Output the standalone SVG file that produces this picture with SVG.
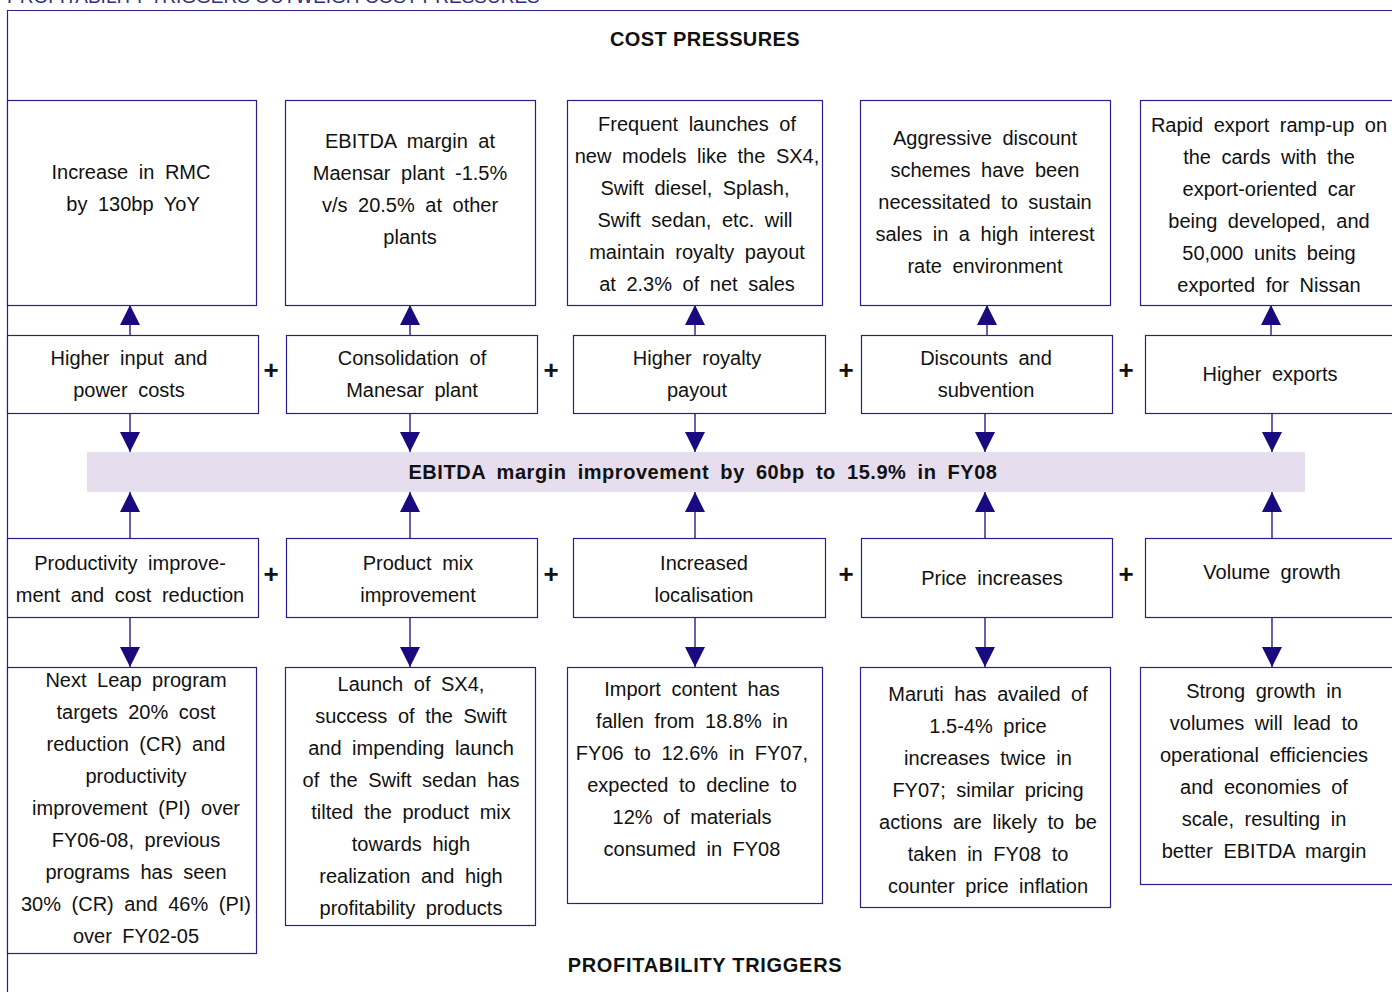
<svg xmlns="http://www.w3.org/2000/svg" width="1392" height="992" viewBox="0 0 1392 992">
<style>
.bg{fill:#ffffff}
.box{fill:#ffffff;stroke:#2a1e8c;stroke-width:1.2}
.frame{fill:none;stroke:#2a1e8c;stroke-width:1.2}
.band{fill:#e6ddee}
.t{font-family:"Liberation Sans",Arial,sans-serif;font-size:20px;fill:#111;text-anchor:middle;word-spacing:5px}
.b{font-family:"Liberation Sans",Arial,sans-serif;font-size:20px;font-weight:bold;fill:#111;text-anchor:middle}
.plus{font-family:"Liberation Sans",Arial,sans-serif;font-size:26px;font-weight:bold;fill:#111;text-anchor:middle}
.cap{font-family:"Liberation Sans",Arial,sans-serif;font-size:19px;fill:#2f2f80}
.con{stroke:#1a0a80;stroke-width:1.3;fill:none}
</style>
<defs>
<marker id="ah" viewBox="0 0 20 20" refX="20" refY="10" markerWidth="20" markerHeight="20" markerUnits="userSpaceOnUse" orient="auto">
<path d="M0,0 L20,10 L0,20 z" fill="#1a0a80"/>
</marker>
</defs>
<rect class="bg" x="0" y="0" width="1392" height="992"/>
<text class="cap" x="7" y="3">PROFITABILITY TRIGGERS OUTWEIGH COST PRESSURES</text>
<path class="frame" d="M7.5,992 V10.5 H1400"/>
<text class="b" x="705" y="46" style="letter-spacing:0.4px">COST PRESSURES</text>
<text class="b" x="705" y="972" style="letter-spacing:0.7px">PROFITABILITY TRIGGERS</text>

<g id="band">
<rect class="band" x="87" y="452" width="1218" height="40"/>
<text class="b" x="703" y="479" style="word-spacing:5px;letter-spacing:0.55px">EBITDA margin improvement by 60bp to 15.9% in FY08</text>
</g>

<g id="connectors">
<line class="con" x1="130" y1="335" x2="130" y2="305" marker-end="url(#ah)"/>
<line class="con" x1="410" y1="335" x2="410" y2="305" marker-end="url(#ah)"/>
<line class="con" x1="695" y1="335" x2="695" y2="305" marker-end="url(#ah)"/>
<line class="con" x1="987" y1="335" x2="987" y2="305" marker-end="url(#ah)"/>
<line class="con" x1="1271" y1="335" x2="1271" y2="305" marker-end="url(#ah)"/>
<line class="con" x1="130" y1="413" x2="130" y2="452" marker-end="url(#ah)"/>
<line class="con" x1="410" y1="413" x2="410" y2="452" marker-end="url(#ah)"/>
<line class="con" x1="695" y1="413" x2="695" y2="452" marker-end="url(#ah)"/>
<line class="con" x1="985" y1="413" x2="985" y2="452" marker-end="url(#ah)"/>
<line class="con" x1="1272" y1="413" x2="1272" y2="452" marker-end="url(#ah)"/>
<line class="con" x1="130" y1="538" x2="130" y2="492" marker-end="url(#ah)"/>
<line class="con" x1="410" y1="538" x2="410" y2="492" marker-end="url(#ah)"/>
<line class="con" x1="695" y1="538" x2="695" y2="492" marker-end="url(#ah)"/>
<line class="con" x1="985" y1="538" x2="985" y2="492" marker-end="url(#ah)"/>
<line class="con" x1="1272" y1="538" x2="1272" y2="492" marker-end="url(#ah)"/>
<line class="con" x1="130" y1="617" x2="130" y2="667" marker-end="url(#ah)"/>
<line class="con" x1="410" y1="617" x2="410" y2="667" marker-end="url(#ah)"/>
<line class="con" x1="695" y1="617" x2="695" y2="667" marker-end="url(#ah)"/>
<line class="con" x1="985" y1="617" x2="985" y2="667" marker-end="url(#ah)"/>
<line class="con" x1="1272" y1="617" x2="1272" y2="667" marker-end="url(#ah)"/>
</g>

<g id="plus-signs">
<text class="plus" x="271" y="379">+</text>
<text class="plus" x="551" y="379">+</text>
<text class="plus" x="846" y="379">+</text>
<text class="plus" x="1126" y="379">+</text>
<text class="plus" x="271" y="583">+</text>
<text class="plus" x="551" y="583">+</text>
<text class="plus" x="846" y="583">+</text>
<text class="plus" x="1126" y="583">+</text>
</g>

<g id="cp-detail-1">
<rect class="box" x="7.5" y="100.5" width="249" height="205"/>
<text class="t" x="131" y="179">Increase in RMC</text>
<text class="t" x="133" y="211">by 130bp YoY</text>
</g>
<g id="cp-detail-2">
<rect class="box" x="285.5" y="100.5" width="250" height="205"/>
<text class="t" x="410" y="148">EBITDA margin at</text>
<text class="t" x="410" y="180">Maensar plant -1.5%</text>
<text class="t" x="410" y="212">v/s 20.5% at other</text>
<text class="t" x="410" y="244">plants</text>
</g>
<g id="cp-detail-3">
<rect class="box" x="567.5" y="100.5" width="255" height="205"/>
<text class="t" x="697" y="131">Frequent launches of</text>
<text class="t" x="697" y="163">new models like the SX4,</text>
<text class="t" x="695" y="195">Swift diesel, Splash,</text>
<text class="t" x="695" y="227">Swift sedan, etc. will</text>
<text class="t" x="697" y="259">maintain royalty payout</text>
<text class="t" x="697" y="291">at 2.3% of net sales</text>
</g>
<g id="cp-detail-4">
<rect class="box" x="860.5" y="100.5" width="250" height="205"/>
<text class="t" x="985" y="145">Aggressive discount</text>
<text class="t" x="985" y="177">schemes have been</text>
<text class="t" x="985" y="209">necessitated to sustain</text>
<text class="t" x="985" y="241">sales in a high interest</text>
<text class="t" x="985" y="273">rate environment</text>
</g>
<g id="cp-detail-5">
<rect class="box" x="1140.5" y="100.5" width="260" height="205"/>
<text class="t" x="1269" y="132">Rapid export ramp-up on</text>
<text class="t" x="1269" y="164">the cards with the</text>
<text class="t" x="1269" y="196">export-oriented car</text>
<text class="t" x="1269" y="228">being developed, and</text>
<text class="t" x="1269" y="260">50,000 units being</text>
<text class="t" x="1269" y="292">exported for Nissan</text>
</g>

<g id="cp-1">
<rect class="box" x="7.5" y="335.5" width="251" height="78"/>
<text class="t" x="129" y="365">Higher input and</text>
<text class="t" x="129" y="397">power costs</text>
</g>
<g id="cp-2">
<rect class="box" x="286.5" y="335.5" width="251" height="78"/>
<text class="t" x="412" y="365">Consolidation of</text>
<text class="t" x="412" y="397">Manesar plant</text>
</g>
<g id="cp-3">
<rect class="box" x="573.5" y="335.5" width="252" height="78"/>
<text class="t" x="697" y="365">Higher royalty</text>
<text class="t" x="697" y="397">payout</text>
</g>
<g id="cp-4">
<rect class="box" x="861.5" y="335.5" width="251" height="78"/>
<text class="t" x="986" y="365">Discounts and</text>
<text class="t" x="986" y="397">subvention</text>
</g>
<g id="cp-5">
<rect class="box" x="1145.5" y="335.5" width="260" height="78"/>
<text class="t" x="1270" y="381">Higher exports</text>
</g>

<g id="pt-1">
<rect class="box" x="7.5" y="538.5" width="251" height="79"/>
<text class="t" x="130" y="570">Productivity improve-</text>
<text class="t" x="130" y="602">ment and cost reduction</text>
</g>
<g id="pt-2">
<rect class="box" x="286.5" y="538.5" width="251" height="79"/>
<text class="t" x="418" y="570">Product mix</text>
<text class="t" x="418" y="602">improvement</text>
</g>
<g id="pt-3">
<rect class="box" x="573.5" y="538.5" width="252" height="79"/>
<text class="t" x="704" y="570">Increased</text>
<text class="t" x="704" y="602">localisation</text>
</g>
<g id="pt-4">
<rect class="box" x="861.5" y="538.5" width="251" height="79"/>
<text class="t" x="992" y="585">Price increases</text>
</g>
<g id="pt-5">
<rect class="box" x="1145.5" y="538.5" width="260" height="79"/>
<text class="t" x="1272" y="579">Volume growth</text>
</g>

<g id="pt-detail-1">
<rect class="box" x="7.5" y="667.5" width="249" height="286"/>
<text class="t" x="136" y="687">Next Leap program</text>
<text class="t" x="136" y="719">targets 20% cost</text>
<text class="t" x="136" y="751">reduction (CR) and</text>
<text class="t" x="136" y="783">productivity</text>
<text class="t" x="136" y="815">improvement (PI) over</text>
<text class="t" x="136" y="847">FY06-08, previous</text>
<text class="t" x="136" y="879">programs has seen</text>
<text class="t" x="136" y="911">30% (CR) and 46% (PI)</text>
<text class="t" x="136" y="943">over FY02-05</text>
</g>
<g id="pt-detail-2">
<rect class="box" x="285.5" y="667.5" width="250" height="258"/>
<text class="t" x="411" y="691">Launch of SX4,</text>
<text class="t" x="411" y="723">success of the Swift</text>
<text class="t" x="411" y="755">and impending launch</text>
<text class="t" x="411" y="787">of the Swift sedan has</text>
<text class="t" x="411" y="819">tilted the product mix</text>
<text class="t" x="411" y="851">towards high</text>
<text class="t" x="411" y="883">realization and high</text>
<text class="t" x="411" y="915">profitability products</text>
</g>
<g id="pt-detail-3">
<rect class="box" x="567.5" y="667.5" width="255" height="236"/>
<text class="t" x="692" y="696">Import content has</text>
<text class="t" x="692" y="728">fallen from 18.8% in</text>
<text class="t" x="692" y="760">FY06 to 12.6% in FY07,</text>
<text class="t" x="692" y="792">expected to decline to</text>
<text class="t" x="692" y="824">12% of materials</text>
<text class="t" x="692" y="856">consumed in FY08</text>
</g>
<g id="pt-detail-4">
<rect class="box" x="860.5" y="667.5" width="250" height="240"/>
<text class="t" x="988" y="701">Maruti has availed of</text>
<text class="t" x="988" y="733">1.5-4% price</text>
<text class="t" x="988" y="765">increases twice in</text>
<text class="t" x="988" y="797">FY07; similar pricing</text>
<text class="t" x="988" y="829">actions are likely to be</text>
<text class="t" x="988" y="861">taken in FY08 to</text>
<text class="t" x="988" y="893">counter price inflation</text>
</g>
<g id="pt-detail-5">
<rect class="box" x="1140.5" y="667.5" width="260" height="217"/>
<text class="t" x="1264" y="698">Strong growth in</text>
<text class="t" x="1264" y="730">volumes will lead to</text>
<text class="t" x="1264" y="762">operational efficiencies</text>
<text class="t" x="1264" y="794">and economies of</text>
<text class="t" x="1264" y="826">scale, resulting in</text>
<text class="t" x="1264" y="858">better EBITDA margin</text>
</g>
</svg>
